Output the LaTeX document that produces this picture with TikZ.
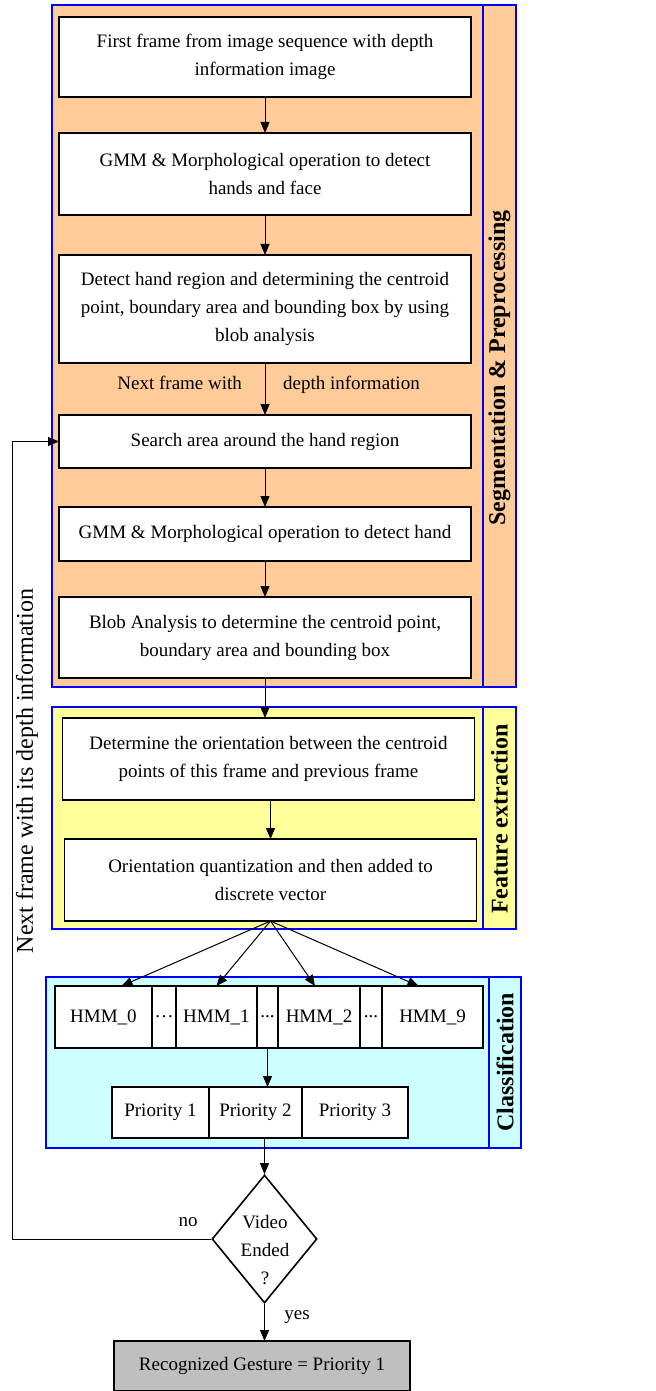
\documentclass[tikz,border=0pt]{standalone}
\usepackage{fontspec}
\setmainfont{Liberation Serif}
\usetikzlibrary{shapes.geometric,arrows.meta}
\definecolor{segfill}{rgb}{1,0.8,0.6}
\definecolor{featfill}{rgb}{1,1,0.6}
\definecolor{clsfill}{rgb}{0.8,1,1}
\definecolor{endfill}{rgb}{0.75,0.75,0.75}
\begin{document}
\begin{tikzpicture}[x=0.5pt,y=-0.5pt,
  font=\fontsize{9.5}{14}\selectfont,
  box/.style={draw,line width=0.8pt,fill=white,align=center,inner sep=0pt,outer sep=0pt,minimum width=206pt},
  field/.style={draw,line width=0.8pt,fill=white,inner sep=0pt,outer sep=0pt,anchor=west},
  arr/.style={line width=0.5pt,-{Triangle[length=5.5pt,width=4.5pt]}},
  cluster/.style={draw=blue,line width=0.8pt},
  sidelabel/.style={rotate=90,font=\fontsize{12}{14}\selectfont\bfseries}]
\useasboundingbox (0,0) rectangle (656,1391);
% clusters
\draw [cluster,fill=segfill] (52,5) rectangle (516,687);
\draw [cluster] (483,5) -- (483,687);
\draw [cluster,fill=featfill] (52,707) rectangle (516,929);
\draw [cluster] (483,707) -- (483,929);
\draw [cluster,fill=clsfill] (46,977) rectangle (521,1148);
\draw [cluster] (489,977) -- (489,1148);
\node [sidelabel] (seglab) at (499.5,368) {Segmentation \& Preprocessing};
\node [sidelabel] (featlab) at (499.5,819) {Feature extraction};
\node [sidelabel] (clslab) at (505,1062) {Classification};
% segmentation
\node [box,minimum height=40pt] (first) at (265,57) {First frame from image sequence with depth\\information image};
\node [box,minimum height=41pt] (gmmhf) at (265,174) {GMM \& Morphological operation to detect\\hands and face};
\node [box,minimum height=54pt] (detect) at (265,309) {Detect hand region and determining the centroid\\point, boundary area and bounding box by using\\blob analysis};
\node [box,minimum height=26.5pt] (search) at (265,441.5) {Search area around the hand region};
\node [box,minimum height=27pt] (gmmh) at (265,534) {GMM \& Morphological operation to detect hand};
\node [box,minimum height=40.5pt] (blob) at (265,637.5) {Blob Analysis to determine the centroid point,\\boundary area and bounding box};
% features
\node [box,minimum height=41pt] (orient) at (268.5,759) {Determine the orientation between the centroid\\points of this frame and previous frame};
\node [box,minimum height=41pt] (quant) at (270.5,880) {Orientation quantization and then added to\\discrete vector};
% classification
\node [field,minimum width=48.5pt,minimum height=31pt] (hmm0) at (55,1017) {HMM\_0};
\node [field,minimum width=12pt,minimum height=31pt] (dots0) at (hmm0.east) {…};
\node [field,minimum width=40.5pt,minimum height=31pt] (hmm1) at (dots0.east) {HMM\_1};
\node [field,minimum width=10.5pt,minimum height=31pt] (dots1) at (hmm1.east) {...};
\node [field,minimum width=41pt,minimum height=31pt] (hmm2) at (dots1.east) {HMM\_2};
\node [field,minimum width=11pt,minimum height=31pt] (dots2) at (hmm2.east) {...};
\node [field,minimum width=50.5pt,minimum height=31pt] (hmm9) at (dots2.east) {HMM\_9};
\node [field,minimum width=48.5pt,minimum height=25.5pt] (prio1) at (112,1112.5) {Priority 1};
\node [field,minimum width=46.5pt,minimum height=25.5pt] (prio2) at (prio1.east) {Priority 2};
\node [field,minimum width=53pt,minimum height=25.5pt] (prio3) at (prio2.east) {Priority 3};
% decision
\node [diamond,draw,line width=0.8pt,fill=white,inner sep=0pt,minimum width=52.5pt,minimum height=64pt] (ended) at (264.5,1239) {};
\node [align=center] (endedtxt) at (265,1250) {Video\\Ended\\?};
\node [draw,line width=0.8pt,fill=endfill,inner sep=0pt,outer sep=0pt,minimum width=148pt,minimum height=25pt] (result) at (262,1366) {Recognized Gesture = Priority 1};
% labels
\node [anchor=base east] (nextl) at (249,389) {Next frame with};
\node [anchor=base west] (nextr) at (276,389) {depth information};
\node (nolab) at (188,1222) {no};
\node (yeslab) at (297,1317) {yes};
\node [rotate=90,font=\fontsize{12}{14}\selectfont] (looplab) at (27,771) {Next frame with its depth information};
\coordinate (loopx) at (12,0);
% connectors
\draw [arr] (first) -- (gmmhf);
\draw [arr] (gmmhf) -- (detect);
\draw [arr] (detect) -- (search);
\draw [arr] (search) -- (gmmh);
\draw [arr] (gmmh) -- (blob);
\draw [arr] (blob.south) -- (blob.south |- orient.north);
\draw [arr] (orient.south -| quant.north) -- (quant.north);
\draw [arr] (quant.south) -- ([xshift=9pt]hmm0.north);
\draw [arr] (quant.south) -- (hmm1.north);
\draw [arr] (quant.south) -- ([xshift=-2pt]hmm2.north);
\draw [arr] (quant.south) -- ([xshift=-7pt]hmm9.north);
\draw [arr] (dots1.south) -- (dots1.south |- prio2.north);
\draw [arr] (prio2.south -| ended.north) -- (ended.north);
\draw [arr] (ended.south) -- (ended.south |- result.north);
\draw [arr] (ended.west) -- (ended.west -| loopx) -- (loopx |- search.west) -- (search.west);
\end{tikzpicture}
\end{document}
